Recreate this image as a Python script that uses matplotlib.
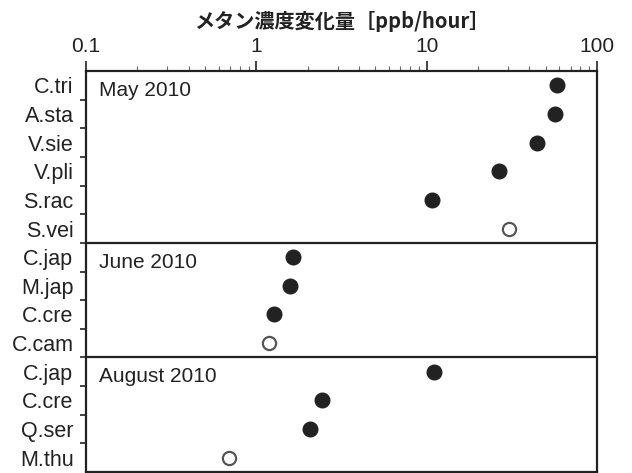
import numpy as np
import matplotlib
matplotlib.use('Agg')
import matplotlib.pyplot as plt
from matplotlib.ticker import LogLocator, NullFormatter, FixedLocator

plt.rcParams['font.family'] = ['Liberation Sans', 'Noto Sans CJK JP', 'DejaVu Sans']

# species per row, top to bottom
species = ['C.tri', 'A.sta', 'V.sie', 'V.pli', 'S.rac', 'S.vei',
           'C.jap', 'M.jap', 'C.cre', 'C.cam',
           'C.jap', 'C.cre', 'Q.ser', 'M.thu']
values = [58, 56.5, 44.5, 26.7, 10.8, 30.3,
          1.65, 1.58, 1.27, 1.19,
          11.0, 2.43, 2.07, 0.69]
filled = [True, True, True, True, True, False,
          True, True, True, False,
          True, True, True, False]
periods = ['May 2010', 'June 2010', 'August 2010']
period_start = [0, 6, 10]

ink = '#222222'
fig = plt.figure(figsize=(6.32, 4.73), dpi=100)
ax = fig.add_axes([86/632, 1/473, 511/632, 401/473])

ypos = np.arange(len(species)) + 0.5
for y, v, f in zip(ypos, values, filled):
    if f:
        ax.plot(v, y, 'o', ms=10.5, mfc=ink, mec=ink, mew=1)
    else:
        ax.plot(v, y, 'o', ms=9.5, mfc='white', mec='#555555', mew=1.6)

ax.set_xscale('log')
ax.set_xlim(0.1, 100)
ax.set_ylim(len(species), 0)

for s in period_start[1:]:
    ax.axhline(s, color=ink, lw=1.6)
for name, s in zip(periods, period_start):
    ax.text(0.026, s + 0.68, name, transform=ax.get_yaxis_transform(),
            fontsize=15, color=ink, va='center', ha='left')

for sp in ax.spines.values():
    sp.set_color(ink)
    sp.set_linewidth(1.6)

ax.xaxis.tick_top()
ax.xaxis.set_label_position('top')
ax.set_xticks([0.1, 1, 10, 100])
ax.set_xticklabels(['0.1', '1', '10', '100'])
ax.xaxis.set_minor_locator(LogLocator(base=10, subs=np.arange(2, 10)))
ax.xaxis.set_minor_formatter(NullFormatter())
ax.tick_params(axis='x', which='major', length=7.5, width=1.2, color=ink,
               labelsize=15, labelcolor=ink, pad=3)
ax.tick_params(axis='x', which='minor', length=3.5, width=0.8, color='#666666')
ax.set_xlabel('メタン濃度変化量［ppb/hour］', fontsize=14.5, color=ink,
              labelpad=7, family=['Noto Sans CJK JP', 'DejaVu Sans'], fontweight='bold')

ax.yaxis.set_major_locator(FixedLocator(np.arange(1, len(species))))
ax.yaxis.set_major_formatter(NullFormatter())
ax.yaxis.set_minor_locator(FixedLocator(ypos))
ax.set_yticklabels(species, minor=True)
ax.tick_params(axis='y', which='major', length=4, width=1.2, color=ink)
ax.tick_params(axis='y', which='minor', length=0, labelsize=15.5,
               labelcolor=ink, pad=9)

fig.savefig('out.png', dpi=100)
